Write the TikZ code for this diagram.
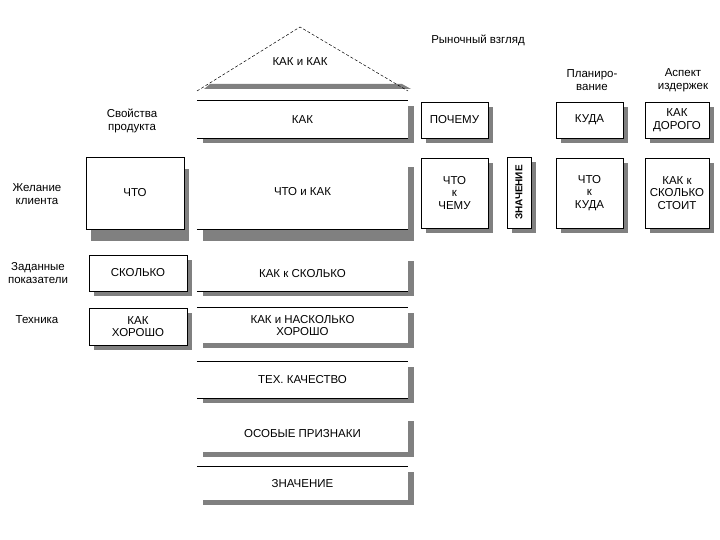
\documentclass[tikz,border=0pt]{standalone}
\usepackage{fontspec}
\setmainfont{Liberation Sans}
\usetikzlibrary{shadows}
\definecolor{shd}{RGB}{128,128,128}
\begin{document}
\begin{tikzpicture}[x=1pt,y=-1pt,
  txt/.style={font=\fontsize{11.5}{12.8}\selectfont, align=center, inner sep=0pt},
  bx/.style={txt, draw=black, line width=0.7pt, fill=white,
    drop shadow={shadow xshift=5pt, shadow yshift=-5pt, fill=shd, opacity=1}},
  bxtall/.style={txt, draw=black, line width=0.7pt, fill=white,
    drop shadow={shadow xshift=5pt, shadow yshift=-12pt, fill=shd, opacity=1}},
  open/.style={txt, draw=none, fill=white,
    drop shadow={shadow xshift=6pt, shadow yshift=-5pt, fill=shd, opacity=1}},
  opentall/.style={txt, draw=none, fill=white,
    drop shadow={shadow xshift=6pt, shadow yshift=-12pt, fill=shd, opacity=1}},
  edge/.style={line width=0.7pt},
  lbl/.style={txt}]
\useasboundingbox (0,0) rectangle (720,540);
% roof
\fill[shd] (210,84) -- (402,84) -- (411,89) -- (204,89) -- cycle;
\coordinate (rl) at (197,91);
\coordinate (ra) at (300,27);
\coordinate (rr) at (408,91);
\draw[line width=0.5pt, densely dashed] (rl) -- (ra) -- (rr);
\node[lbl] (roof) at (300,62) {КАК и КАК};
% header labels
\node[lbl] (mkt) at (478,40) {Рыночный взгляд};
\node[lbl] (plan) at (592,80) {Планиро-\\вание};
\node[lbl] (cost) at (683,80) {Аспект\\издержек};
\node[lbl] (prop) at (132,121) {Свойства\\продукта};
\node[lbl] (wish) at (37,194) {Желание\\клиента};
\node[lbl] (spec) at (38,273) {Заданные\\показатели};
\node[lbl] (tech) at (37,320) {Техника};
% left column
\node[bxtall, minimum width=98pt, minimum height=72pt] (what) at (135,193) {ЧТО};
\node[bx, minimum width=98pt, minimum height=36pt] (howmuch) at (138,273) {СКОЛЬКО};
\node[bx, minimum width=98pt, minimum height=37pt] (howwell) at (138,326.5) {КАК\\ХОРОШО};
% middle column
\node[open, minimum width=211pt, minimum height=37pt] (how) at (302.5,119.5) {КАК};
\draw[edge] (how.north west) -- (how.north east) (how.south west) -- (how.south east);
\node[opentall, minimum width=211pt, minimum height=74pt] (whathow) at (302.5,192) {ЧТО и КАК};
\draw[edge] (whathow.south west) -- (whathow.south east);
\node[open, minimum width=211pt, minimum height=35pt] (howhm) at (302.5,273.5) {КАК к СКОЛЬКО};
\draw[edge] (howhm.south west) -- (howhm.south east);
\node[open, minimum width=211pt, minimum height=35pt] (howwell2) at (302.5,325.5) {КАК и НАСКОЛЬКО\\ХОРОШО};
\draw[edge] (howwell2.north west) -- (howwell2.north east);
\node[open, minimum width=211pt, minimum height=36pt] (techq) at (302.5,380) {ТЕХ. КАЧЕСТВО};
\draw[edge] (techq.north west) -- (techq.north east) (techq.south west) -- (techq.south east);
\node[open, minimum width=211pt, minimum height=36pt] (feat) at (302.5,434) {ОСОБЫЕ ПРИЗНАКИ};
\node[open, minimum width=211pt, minimum height=33pt] (val) at (302.5,483.5) {ЗНАЧЕНИЕ};
\draw[edge] (val.north west) -- (val.north east);
% right columns
\node[bx, minimum width=67pt, minimum height=36pt] (why) at (454.5,120) {ПОЧЕМУ};
\node[bx, minimum width=67pt, minimum height=70pt] (whatwhy) at (454.5,193) {ЧТО\\к\\ЧЕМУ};
\node[bx, minimum width=24pt, minimum height=71pt] (valv) at (519,192.5) {};
\node[font=\fontsize{10}{11}\selectfont\bfseries, rotate=90, inner sep=0pt] (valvt) at (valv.center) {ЗНАЧЕНИЕ};
\node[bx, minimum width=67pt, minimum height=36pt] (where) at (589.5,120) {КУДА};
\node[bx, minimum width=67pt, minimum height=70pt] (whatwhere) at (589.5,193) {ЧТО\\к\\КУДА};
\node[bx, minimum width=64pt, minimum height=36pt] (costly) at (677,120) {КАК\\ДОРОГО};
\node[bx, minimum width=64pt, minimum height=70pt] (howcost) at (677,193) {КАК к\\СКОЛЬКО\\СТОИТ};
\end{tikzpicture}
\end{document}
